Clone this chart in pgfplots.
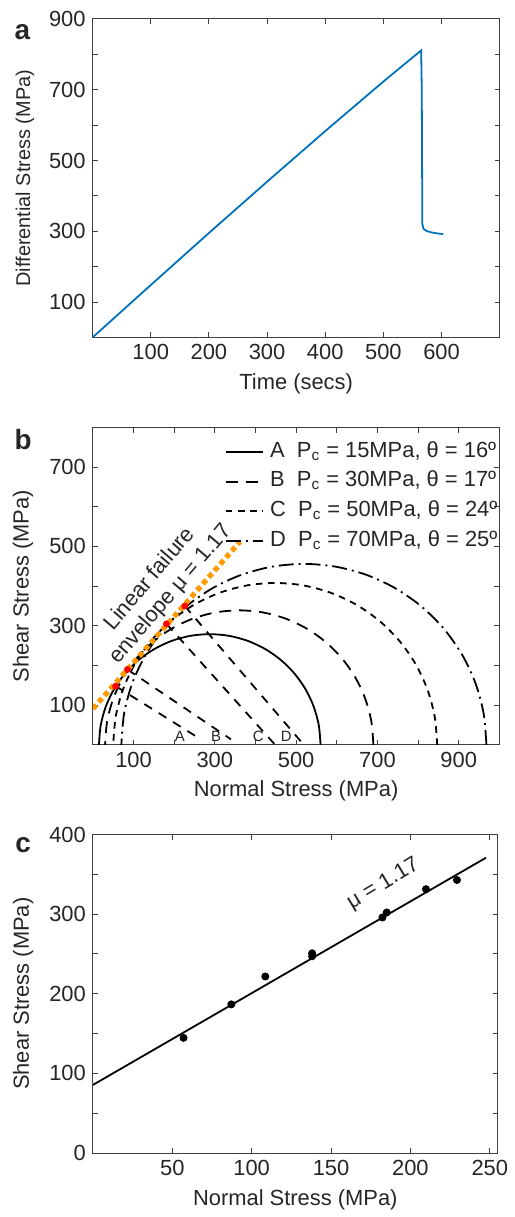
\documentclass[border=0pt]{standalone}
\usepackage{fontspec}
\setmainfont{Liberation Sans}
\usepackage{pgfplots}
\pgfplotsset{compat=1.18}
\definecolor{mblue}{RGB}{0,114,189}
\definecolor{morange}{RGB}{255,153,0}
\definecolor{txt}{RGB}{38,38,38}
\pgfplotsset{
  myaxis/.style={
    scale only axis,
    axis line style={black!75, line width=0.5pt},
    tick style={black!75, line width=0.5pt},
    major tick length=2.6pt,
    tick align=inside,
    /pgf/number format/assume math mode=true,
    tick label style={font=\fontsize{11}{13}\selectfont, text=txt},
    label style={font=\fontsize{11}{13}\selectfont, text=txt},
    anchor=north west,
  }
}
\begin{document}
\begin{tikzpicture}
\path (0,0) rectangle (255.5pt,-608.5pt);
\node[font=\bfseries\fontsize{14}{16}\selectfont, anchor=base, text=txt] at (11.25pt,-19.65pt) {a};
\node[font=\bfseries\fontsize{14}{16}\selectfont, anchor=base, text=txt] at (11.65pt,-225.85pt) {b};
\node[font=\bfseries\fontsize{14}{16}\selectfont, anchor=base, text=txt] at (11.65pt,-428.35pt) {c};

% ---------------- panel a ----------------
\begin{axis}[myaxis, at={(46.5pt,-9.5pt)}, width=204.5pt, height=160pt,
  xmin=0, xmax=700, ymin=0, ymax=900,
  xtick={100,200,...,600},
  ytick={100,200,...,900}, yticklabels={100,,300,,500,,700,,900},
  xlabel={Time (secs)}, ylabel={Differential Stress (MPa)},
  xlabel style={at={(axis description cs:0.5,-0.147)}, anchor=center},
  ylabel style={at={(axis description cs:-0.166,0.5)}, anchor=center, font=\fontsize{10}{12}\selectfont},
]
\addplot[mblue, line width=0.9pt] coordinates {
(0,0) (100,148) (200,295) (300,440) (400,583) (500,723) (565,811)
(566,700) (567,320) (569,307) (574,301) (582,297) (592,294) (603,292)};
\end{axis}

% ---------------- panel b ----------------
\begin{axis}[myaxis, at={(46.65pt,-214.65pt)}, width=204.2pt, height=159.5pt,
  xmin=0, xmax=1000, ymin=0, ymax=800,
  xtick={100,200,...,900}, xticklabels={100,,300,,500,,700,,900},
  ytick={100,200,...,700}, yticklabels={100,,300,,500,,700},
  xlabel={Normal Stress (MPa)}, ylabel={Shear Stress (MPa)},
  xlabel style={at={(axis description cs:0.5,-0.144)}, anchor=center},
  ylabel style={at={(axis description cs:-0.172,0.5)}, anchor=center},
  legend style={at={(rel axis cs:1,0.963)}, anchor=north east, draw=none, fill=none,
    font=\fontsize{11}{13}\selectfont, text=txt, inner sep=0pt, row sep=2.3pt, column sep=2.5pt,
    nodes={inner sep=0.8pt, text height=8pt, text depth=3pt}},
  legend cell align=left,
  legend image code/.code={\draw[#1] (0pt,0pt) -- (18.5pt,0pt);},
]
\addplot[black, line width=0.9pt, smooth] coordinates {
(560,0) (555.9,48.4) (543.6,95.4) (523.5,139.5) (496.2,179.3) (462.7,213.7) (423.75,241.6) (380.7,262.2) (334.8,274.8) (287.5,279)
(240.2,274.8) (194.3,262.2) (151.25,241.6) (112.3,213.7) (78.8,179.3) (51.5,139.5) (31.4,95.4) (19.1,48.4) (15,0)};
\addlegendentry{A~~P\textsubscript{c} = 15MPa, θ = 16º}
\addplot[black, line width=0.9pt, smooth, dash pattern=on 6pt off 4pt] coordinates {
(690,0) (685.0,58.9) (670.1,115.9) (645.8,169.5) (612.8,217.9) (572.1,259.7) (525,293.6) (472.9,318.6) (417.3,333.9) (360,339)
(302.7,333.9) (247.1,318.6) (195,293.6) (147.9,259.7) (107.2,217.9) (74.2,169.5) (49.9,115.9) (35.0,58.9) (30,0)};
\addlegendentry{B~~P\textsubscript{c} = 30MPa, θ = 17º}
\addplot[black, line width=0.9pt, smooth, dash pattern=on 3.3pt off 2.8pt] coordinates {
(847,0) (840.9,70.8) (823.0,139.5) (793.6,204) (753.8,262.3) (704.7,312.5) (647.75,353.3) (584.8,383.4) (517.7,401.8) (448.5,408)
(379.3,401.8) (312.2,383.4) (249.25,353.3) (192.3,312.5) (143.2,262.3) (103.4,204) (74.0,139.5) (56.1,70.8) (50,0)};
\addlegendentry{C~~P\textsubscript{c} = 50MPa, θ = 24º}
\addplot[black, line width=0.9pt, smooth, dash pattern=on 7.5pt off 2.5pt on 1pt off 2.5pt] coordinates {
(968,0) (961.2,79.2) (940.9,156.0) (907.8,228) (862.9,293.1) (807.6,349.3) (743.5,394.9) (672.6,428.5) (596.9,449.1) (519,456)
(441.1,449.1) (365.4,428.5) (294.5,394.9) (230.2,349.3) (175.1,293.1) (130.4,228) (97.1,156.0) (76.8,79.2) (70,0)};
\addlegendentry{D~~P\textsubscript{c} = 70MPa, θ = 25º}
% radius lines
\addplot[black, line width=0.9pt, dash pattern=on 4.5pt off 4pt, forget plot] coordinates {(56,148) (265.6,14)};
\addplot[black, line width=0.9pt, dash pattern=on 4.5pt off 4pt, forget plot] coordinates {(85,190) (339.7,14)};
\addplot[black, line width=0.9pt, dash pattern=on 4.5pt off 4pt, forget plot] coordinates {(181,305) (448.5,0)};
\addplot[black, line width=0.9pt, dash pattern=on 4.5pt off 4pt, forget plot] coordinates {(226,350) (519,0)};
% envelope
\addplot[morange, line width=2.6pt, dash pattern=on 2.6pt off 1.8pt, forget plot] coordinates {(0,91) (362,512)};
\addplot[only marks, mark=*, mark size=1.5pt, red, forget plot] coordinates {(56,148) (85,190) (181,305) (226,350)};
\node[font=\fontsize{7.5}{9}\selectfont, text=txt] at (axis cs:214,21) {A};
\node[font=\fontsize{7.5}{9}\selectfont, text=txt] at (axis cs:303,21) {B};
\node[font=\fontsize{7.5}{9}\selectfont, text=txt] at (axis cs:407,21) {C};
\node[font=\fontsize{7.5}{9}\selectfont, text=txt] at (axis cs:476,21) {D};
\node[rotate=49.5, font=\fontsize{11}{13}\selectfont, text=txt] at (axis cs:137,421) {Linear failure};
\node[rotate=49.5, font=\fontsize{11}{13}\selectfont, text=txt] at (axis cs:193,379) {envelope μ = 1.17};
\end{axis}

% ---------------- panel c ----------------
\begin{axis}[myaxis, at={(46.65pt,-419.15pt)}, width=203.35pt, height=160pt,
  xmin=0, xmax=255, ymin=0, ymax=400,
  xtick={50,100,...,250},
  ytick={0,50,...,400}, yticklabels={0,,100,,200,,300,,400},
  xlabel={Normal Stress (MPa)}, ylabel={Shear Stress (MPa)},
  xlabel style={at={(axis description cs:0.5,-0.148)}, anchor=center},
  ylabel style={at={(axis description cs:-0.172,0.5)}, anchor=center},
]
\addplot[black, line width=0.9pt] coordinates {(0,85.5) (247.6,370.8)};
\addplot[only marks, mark=*, mark size=1.8pt, black] coordinates {
(57.1,144.6) (87.2,186.7) (108.6,221.7) (138.1,250.8) (138.1,247.1)
(182.4,295.8) (185.1,302.1) (209.8,331.3) (229.3,342.9)};
\node[rotate=31, font=\fontsize{11}{13}\selectfont, text=txt] at (axis cs:183,337.5) {μ = 1.17};
\end{axis}
\end{tikzpicture}
\end{document}
